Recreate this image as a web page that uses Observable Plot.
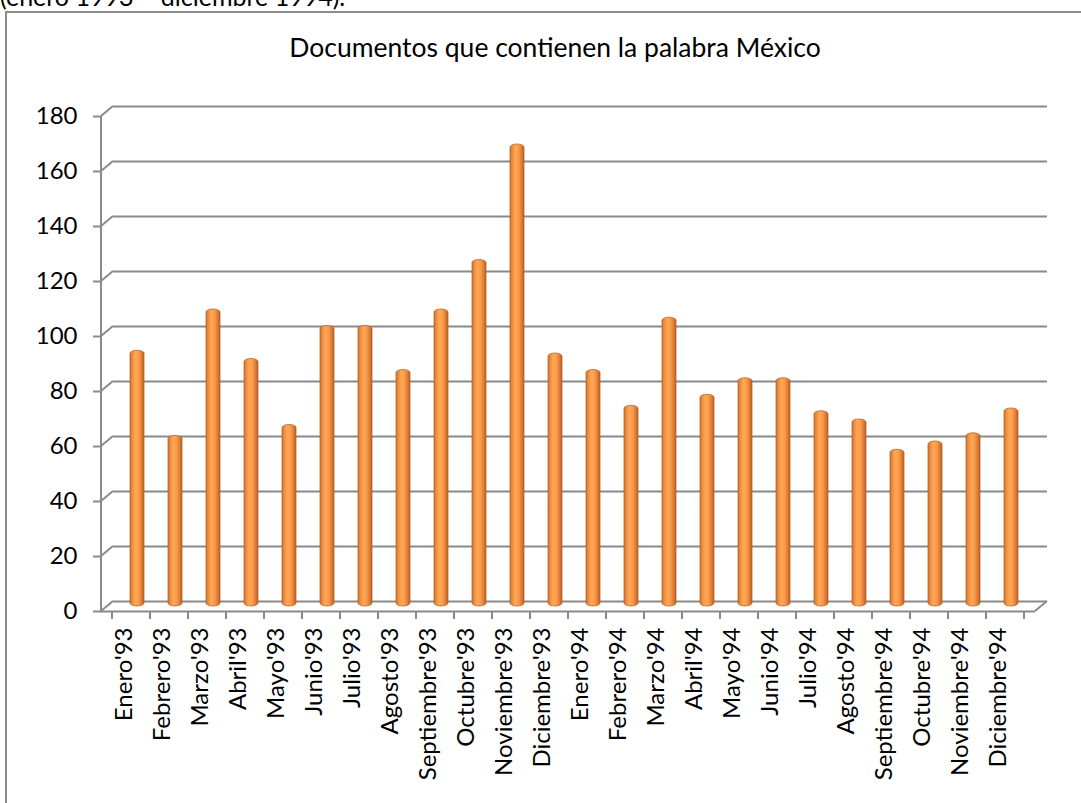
<!DOCTYPE html>
<html>
<head>
<meta charset="utf-8">
<script src="https://cdn.jsdelivr.net/npm/d3@7"></script>
<script src="https://cdn.jsdelivr.net/npm/@observablehq/plot@0.6"></script>
<style>
  html, body { margin: 0; padding: 0; background: #fff; }
  #wrap { position: relative; width: 1081px; height: 803px; overflow: hidden; font-family: Lato, "Open Sans", sans-serif; color: #000; }
  #above { position: absolute; left: 0; top: -16px; font-size: 25px; line-height: 25px; white-space: nowrap; }
  #box { position: absolute; left: 5px; top: 11px; width: 1200px; height: 900px; border: 2px solid #8c8c8c; box-sizing: border-box; }
  #title { position: absolute; left: 0; width: 1110px; top: 32px; text-align: center; font-size: 26.5px; line-height: 30px; }
  #chart { position: absolute; left: 0; top: 0; }
  #chart svg text { font-family: Lato, "Open Sans", sans-serif; font-size: 24px; fill: #000; }
  #chart svg g[aria-label^="y-axis"] line, #chart svg g[aria-label^="y-axis"] path { stroke: #8a8a8a; stroke-width: 2; stroke-opacity: 1; }
</style>
</head>
<body>
<div id="wrap">
  <div id="above">(enero 1993 – diciembre 1994).</div>
  <div id="box"></div>
  <div id="title">Documentos que contienen la palabra México</div>
  <div id="chart"></div>
</div>
<script>
const categories = ["Enero'93","Febrero'93","Marzo'93","Abril'93","Mayo'93","Junio'93","Julio'93","Agosto'93","Septiembre'93","Octubre'93","Noviembre'93","Diciembre'93",
  "Enero'94","Febrero'94","Marzo'94","Abril'94","Mayo'94","Junio'94","Julio'94","Agosto'94","Septiembre'94","Octubre'94","Noviembre'94","Diciembre'94"];
const values = [93, 62, 108, 90, 66, 102, 102, 86, 108, 126, 168, 92, 86, 73, 105, 77, 83, 83, 71, 68, 57, 60, 63, 72];
const yTicks = [0, 20, 40, 60, 80, 100, 120, 140, 160, 180];
const yDomain = [0, 180];

const data = categories.map((c, i) => ({month: c, count: values[i]}));

const gridColor = "#8a8a8a";
const DX = 12, DY = -10;   // depth offset of the back wall

function frame3d(index, scales, channels, dims) {
  const y = scales.y, x = scales.x;
  const x0 = dims.marginLeft, x1 = dims.width - dims.marginRight;
  const g = d3.create("svg:g").attr("stroke", gridColor).attr("stroke-width", 2).attr("fill", "none");
  g.append("line").attr("x1", x0).attr("x2", x0).attr("y1", y(yDomain[0])).attr("y2", y(yDomain[1]));
  for (const t of yTicks) {
    g.append("line").attr("x1", x0).attr("y1", y(t)).attr("x2", x0 + DX).attr("y2", y(t) + DY);
  }
  g.append("line").attr("x1", x1).attr("y1", y(0)).attr("x2", x1 + DX).attr("y2", y(0) + DY);
  const bounds = categories.map(c => x(c)).concat([x(categories[categories.length - 1]) + x.bandwidth()]);
  for (const b of bounds) {
    g.append("line").attr("x1", b).attr("x2", b).attr("y1", y(0)).attr("y2", y(0) + 8);
  }
  return g.node();
}

const chart = Plot.plot({
  width: 1081,
  height: 803,
  marginLeft: 101,
  marginRight: 46,
  marginTop: 116,
  marginBottom: 192,
  style: {fontFamily: "Lato, 'Open Sans', sans-serif", fontSize: "24px", background: "transparent", overflow: "visible"},
  x: {domain: categories, padding: 0, axis: null},
  y: {domain: yDomain, ticks: yTicks, tickSize: 8, tickPadding: 16, label: null, tickFormat: d => String(d)},
  marks: [
    Plot.ruleY(yTicks, {stroke: gridColor, strokeWidth: 2, dx: DX, dy: DY}),
    Plot.ruleY([0], {stroke: gridColor, strokeWidth: 2}),
    frame3d,
    Plot.barY(data, {x: "month", y: "count", fill: "url(#cyl)", stroke: "#b8682c", strokeWidth: 0.8,
      insetLeft: 12, insetRight: 12, rx: 7.5, ry: 3, dx: DX / 2, dy: DY / 2}),
    Plot.text(categories, {x: d => d, frameAnchor: "bottom", rotate: -90, textAnchor: "end", dy: 16, fill: "#000"})
  ]
});

const defs = d3.select(chart).insert("defs", ":first-child");
const grad = defs.append("linearGradient").attr("id", "cyl").attr("x1", "0").attr("x2", "1").attr("y1", "0").attr("y2", "0");
[["0%", "#c96d2b"], ["12%", "#ea863b"], ["38%", "#ffa957"], ["62%", "#fb9a4b"], ["85%", "#dc7a33"], ["100%", "#a95b23"]]
  .forEach(([o, c]) => grad.append("stop").attr("offset", o).attr("stop-color", c));

document.getElementById("chart").appendChild(chart);
</script>
</body>
</html>
